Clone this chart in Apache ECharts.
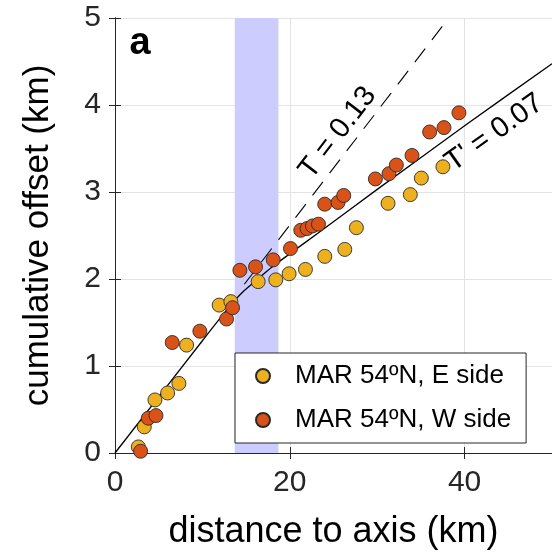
<!DOCTYPE html>
<html><head><meta charset="utf-8">
<script src="https://cdn.jsdelivr.net/npm/echarts@6/dist/echarts.min.js"></script>
<style>html,body{margin:0;padding:0;background:#fff}#c{width:552px;height:555px}</style>
</head><body><div id="c"></div>
<script>
// East side (yellow)
const eastX = [2.67,3.35,4.57,6.02,7.31,8.19,11.92,13.26,16.38,18.4,19.92,21.79,24.0,26.29,27.62,31.24,33.79,35.05,37.52];
const eastY = [0.07,0.30,0.61,0.69,0.80,1.24,1.70,1.74,1.97,1.99,2.06,2.11,2.26,2.34,2.59,2.87,2.97,3.16,3.29];
// West side (red)
const westX = [2.93,3.81,4.69,6.55,9.71,12.76,13.45,14.29,16.08,18.1,20.08,21.26,21.98,22.59,23.28,24.0,25.52,26.17,29.79,31.35,32.19,33.98,36.0,37.64,39.35];
const westY = [0.02,0.40,0.43,1.27,1.40,1.54,1.67,2.10,2.14,2.22,2.35,2.56,2.58,2.61,2.63,2.86,2.88,2.96,3.15,3.21,3.31,3.42,3.69,3.74,3.91];
// model curve (T -> T') vertices
const curveX = [0,10,13,14.5,16,18,20,23.4,30,40.2,50];
const curveY = [0,1.29,1.67,1.84,1.97,2.14,2.29,2.54,3.03,3.775,4.475];
// T = 0.13 dashed line endpoints
const dashX = [14.8,37.8];
const dashY = [1.94,4.95];
// shaded band
const band = [13.7,18.7];
const xTicks = [0,20,40];
const yTicks = [0,1,2,3,4,5];
const seriesNames = ['MAR 54\u00baN, E side','MAR 54\u00baN, W side'];
const labelT = {text:'T = 0.13', x:25.5, y:3.68, slope:0.131};
const labelTp = {text:"T' = 0.07", x:43.4, y:3.68, slope:0.0714};

const zip = (a,b)=>a.map((v,i)=>[v,b[i]]);
const FONT = '"Liberation Sans", Arial, Helvetica, sans-serif';
const TXT = '#262626';

const chart = echarts.init(document.getElementById('c'), null, {renderer:'canvas'});
const axisCommon = {
  axisLine:{show:true,lineStyle:{color:TXT,width:1}},
  axisTick:{show:true,inside:true,length:6,lineStyle:{color:TXT}},
};
const option = {
  animation:false,
  backgroundColor:'#fff',
  grid:{left:115,top:18,right:-1,bottom:99,containLabel:false},
  legend:{
    data:seriesNames, orient:'vertical', left:235, top:353,
    backgroundColor:'#fff', borderColor:TXT, borderWidth:1, borderRadius:0,
    padding:[10,15,10,20], itemWidth:14, itemHeight:14, itemGap:18,
    textStyle:{fontSize:26, fontFamily:FONT, color:'#000', lineHeight:26, padding:[0,0,0,20]},
    icon:'circle'
  },
  xAxis:[
    Object.assign({type:'value',min:0,max:50,interval:20,position:'bottom',
      axisLabel:{fontSize:30,fontFamily:FONT,color:TXT,margin:15,showMaxLabel:false,
        formatter:v=>xTicks.includes(v)?String(v):''},
      splitLine:{show:true,lineStyle:{color:'#e3e3e3',width:1}},
      name:'distance to axis (km)',nameLocation:'middle',nameGap:61,
      nameTextStyle:{fontSize:36,fontFamily:FONT,color:'#000'}},axisCommon),
    Object.assign({type:'value',min:0,max:50,interval:20,position:'top',
      axisLabel:{show:false},splitLine:{show:false}},axisCommon)
  ],
  yAxis:[
    Object.assign({type:'value',min:0,max:5,interval:1,position:'left',
      axisLabel:{fontSize:30,fontFamily:FONT,color:TXT,margin:14,
        formatter:v=>yTicks.includes(v)?String(v):''},
      splitLine:{show:true,lineStyle:{color:'#e3e3e3',width:1}},
      name:'cumulative offset (km)',nameLocation:'middle',nameGap:59,
      nameTextStyle:{fontSize:35,fontFamily:FONT,color:'#000'}},axisCommon),
    Object.assign({type:'value',min:0,max:5,interval:1,position:'right',
      axisLabel:{show:false},splitLine:{show:false}},axisCommon)
  ],
  series:[
    {type:'line',name:'band',data:[],silent:true,z:1,
      markArea:{silent:true,itemStyle:{color:'#ccccff',opacity:1},
        data:[[{xAxis:band[0]},{xAxis:band[1]}]]}},
    {type:'line',name:'T',data:zip(dashX,dashY),symbol:'none',z:3,
      lineStyle:{color:'#000',width:1.1,type:[17,11]}},
    {type:'line',name:"T'",data:zip(curveX,curveY),symbol:'none',smooth:0.3,z:3,
      lineStyle:{color:'#000',width:1.3}},
    {type:'scatter',name:seriesNames[0],data:zip(eastX,eastY),symbol:'circle',symbolSize:14,z:4,
      itemStyle:{color:'#edb120',borderColor:'#2a2a2a',borderWidth:0.9,opacity:1}},
    {type:'scatter',name:seriesNames[1],data:zip(westX,westY),symbol:'circle',symbolSize:14,z:5,
      itemStyle:{color:'#d95319',borderColor:'#2a2a2a',borderWidth:0.9,opacity:1}}
  ]
};
chart.setOption(option);

function rotLabel(l){
  const p = chart.convertToPixel({xAxisIndex:0,yAxisIndex:0},[l.x,l.y]);
  const p2 = chart.convertToPixel({xAxisIndex:0,yAxisIndex:0},[l.x+1,l.y+l.slope]);
  const ang = Math.atan2(-(p2[1]-p[1]), p2[0]-p[0]);
  return {type:'text',x:p[0],y:p[1],rotation:ang,z:10,
    style:{text:l.text,fontSize:29,fontFamily:FONT,fill:'#000',align:'center',verticalAlign:'middle'}};
}
chart.setOption({graphic:[
  {type:'text',x:140,y:44,z:10,style:{text:'a',fontSize:38,fontWeight:'bold',fontFamily:FONT,fill:'#000',align:'center',verticalAlign:'middle'}},
  rotLabel(labelT), rotLabel(labelTp)
]});
</script></body></html>
